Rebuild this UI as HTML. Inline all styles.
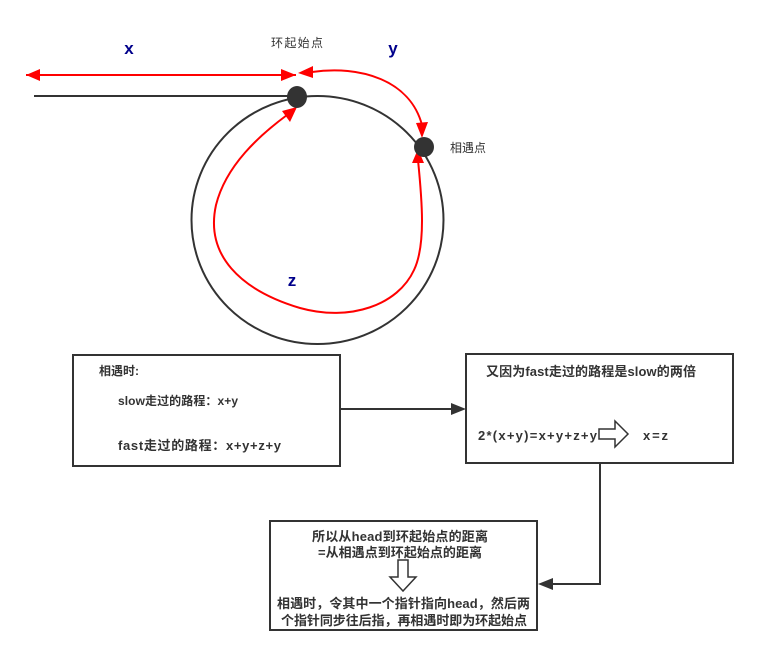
<!DOCTYPE html>
<html><head><meta charset="utf-8"><style>
body{margin:0;background:#fff;}
text{font-family:"Liberation Sans","Noto Sans CJK SC",sans-serif;}
</style></head><body>
<svg width="758" height="656" viewBox="0 0 758 656" xmlns="http://www.w3.org/2000/svg">
<ellipse cx="317.5" cy="220" rx="126" ry="124" fill="none" stroke="#333" stroke-width="2"/>
<line x1="34" y1="96" x2="297" y2="96" stroke="#333" stroke-width="2"/>
<line x1="26" y1="75" x2="296" y2="75" stroke="#f00" stroke-width="2"/>
<path d="M26,75 L40,69 L40,81 z" fill="#f00"/>
<path d="M296,75 L281,69 L281,81 z" fill="#f00"/>
<path d="M312,72 C360,65 410,80 422,125" fill="none" stroke="#f00" stroke-width="2"/>
<path d="M298,73 L313,66 L313,78 z" fill="#f00"/>
<path d="M422,138 L416,123 L428,122 z" fill="#f00"/>
<path d="M418,160 C422,200 426,245 414,270 C398,305 350,322 300,308 C240,290 205,255 216,205 C226,165 260,135 287,115" fill="none" stroke="#f00" stroke-width="2"/>
<path d="M418,149 L412,163 L424,163 z" fill="#f00"/>
<path d="M297,107 L282,111 L290,122 z" fill="#f00"/>
<ellipse cx="297" cy="97" rx="10" ry="11" fill="#333"/>
<ellipse cx="424" cy="147" rx="10" ry="10" fill="#333"/>
<text x="129" y="54" font-size="17" font-weight="bold" fill="#00008b" text-anchor="middle">x</text>
<text x="393" y="54" font-size="17" font-weight="bold" fill="#00008b" text-anchor="middle">y</text>
<text x="292" y="286" font-size="17" font-weight="bold" fill="#00008b" text-anchor="middle">z</text>
<text x="271" y="47" font-size="12" fill="#333" textLength="52">环起始点</text>
<text x="450" y="152" font-size="12" fill="#333">相遇点</text>
<rect x="73" y="355" width="267" height="111" fill="#fff" stroke="#333" stroke-width="2"/>
<text x="99" y="375" font-size="12" font-weight="bold" fill="#333">相遇时:</text>
<text x="118" y="405" font-size="12" font-weight="bold" fill="#333" textLength="120">slow走过的路程：x+y</text>
<text x="118" y="450" font-size="13" font-weight="bold" fill="#333" textLength="163">fast走过的路程：x+y+z+y</text>
<line x1="340" y1="409" x2="452" y2="409" stroke="#333" stroke-width="2"/>
<path d="M466,409 L451,403 L451,415 z" fill="#333"/>
<rect x="466" y="354" width="267" height="109" fill="#fff" stroke="#333" stroke-width="2"/>
<text x="486" y="376" font-size="13" font-weight="bold" fill="#333" textLength="210">又因为fast走过的路程是slow的两倍</text>
<text x="478" y="440" font-size="13" font-weight="bold" fill="#333" textLength="119">2*(x+y)=x+y+z+y</text>
<path d="M599,429 L615,429 L615,421 L628,434 L615,447 L615,439 L599,439 z" fill="#fff" stroke="#333" stroke-width="1.5"/>
<text x="643" y="440" font-size="13" font-weight="bold" fill="#333" textLength="25">x=z</text>
<polyline points="600,463 600,584 552,584" fill="none" stroke="#333" stroke-width="2"/>
<path d="M538,584 L553,578 L553,590 z" fill="#333"/>
<rect x="270" y="521" width="267" height="109" fill="#fff" stroke="#333" stroke-width="2"/>
<text x="312" y="541" font-size="13" font-weight="bold" fill="#333" textLength="176">所以从head到环起始点的距离</text>
<text x="318" y="557" font-size="13" font-weight="bold" fill="#333" textLength="164">=从相遇点到环起始点的距离</text>
<path d="M398,560 L408,560 L408,577 L416,577 L403,591 L390,577 L398,577 z" fill="#fff" stroke="#333" stroke-width="1.5"/>
<text x="277" y="608" font-size="13" font-weight="bold" fill="#333" textLength="253">相遇时，令其中一个指针指向head，然后两</text>
<text x="281" y="625" font-size="13" font-weight="bold" fill="#333" textLength="246">个指针同步往后指，再相遇时即为环起始点</text>
</svg>
</body></html>
